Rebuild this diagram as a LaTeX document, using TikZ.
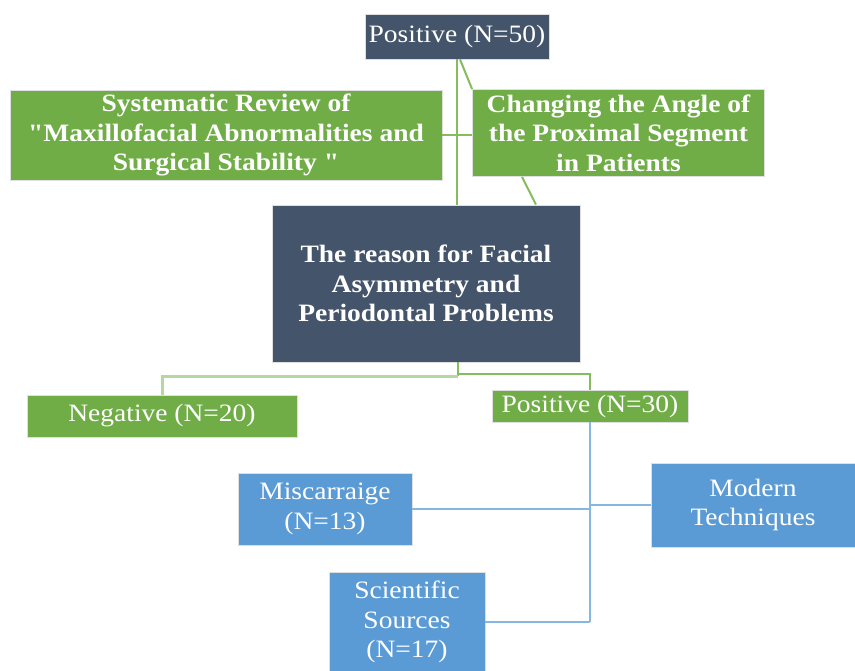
\documentclass[tikz,border=0pt]{standalone}
\usepackage{fontspec}
\setmainfont{Liberation Serif}[FakeStretch=1.1, Ligatures=TeXOff]
\definecolor{navy}{HTML}{44546A}
\definecolor{grn}{HTML}{70AD47}
\definecolor{blu}{HTML}{5B9BD5}
\definecolor{gline}{HTML}{86BC5E}
\definecolor{lgline}{HTML}{B5D7A0}
\definecolor{bline}{HTML}{86B6E2}
\tikzset{
  box/.style={draw=gray!25, line width=0.8pt, inner sep=0pt, align=center, text=white,
    font=\fontsize{25}{29.5}\selectfont},
  navybox/.style={box, fill=navy},
  grnbox/.style={box, fill=grn},
  blubox/.style={box, fill=blu},
  gconn/.style={draw=gline, line width=2pt},
  lgconn/.style={draw=lgline, line width=3pt},
  bconn/.style={draw=bline, line width=2pt},
}
\begin{document}
\begin{tikzpicture}[x=1pt,y=-1pt]
\useasboundingbox[fill=white] (0,0) rectangle (855,671);
% nodes
\node[navybox, minimum width=184pt, minimum height=45pt] (p50) at (457,36.5) {Positive (N=50)};
\node[grnbox, minimum width=432pt, minimum height=90pt, font=\fontsize{25}{29.5}\selectfont\bfseries] (sys) at (226,135)
  {Systematic Review of\\"Maxillofacial Abnormalities and\\Surgical Stability "};
\node[grnbox, minimum width=292pt, minimum height=87pt, font=\fontsize{25}{29.5}\selectfont\bfseries] (chg) at (618.5,133)
  {Changing the Angle of\\the Proximal Segment\\in Patients};
\node[navybox, minimum width=308pt, minimum height=157pt, font=\fontsize{25}{29.5}\selectfont\bfseries] (reason) at (426,283.5)
  {The reason for Facial\\Asymmetry and\\Periodontal Problems};
\node[grnbox, minimum width=270pt, minimum height=42pt] (neg) at (162,416) {Negative (N=20)};
\node[grnbox, minimum width=196pt, minimum height=32pt] (p30) at (590,406) {Positive (N=30)};
\node[blubox, minimum width=174pt, minimum height=72pt] (mis) at (325,509) {Miscarraige\\(N=13)};
\node[blubox, minimum width=204pt, minimum height=84pt] (mod) at (753,505) {Modern\\Techniques};
\node[blubox, minimum width=156pt, minimum height=100pt] (sci) at (407,622) {Scientific\\Sources\\(N=17)};
% upper connectors
\draw[gconn] (p50.south) -- (p50.south |- reason.north);
\draw[gconn] ([xshift=3pt]p50.south) -- (chg.north west);
\draw[gconn] (sys.east) -- (sys.east -| chg.west);
\draw[gconn] ([xshift=-96.5pt]chg.south) -- ([xshift=110pt]reason.north);
% lower connectors
\coordinate (j) at ([xshift=32pt,yshift=-14pt]reason.south);
\draw[gconn] ([xshift=32pt]reason.south) -- (j);
\draw[lgconn] (j) -| (neg.north);
\draw[gconn] ([yshift=2pt]j) -| (p30.north);
% blue connectors
\draw[bconn] (p30.south) -- (p30.south |- sci.east);
\draw[bconn] (mis.east) -- (mis.east -| p30.south);
\draw[bconn] (mod.west) -- (mod.west -| p30.south);
\draw[bconn] (sci.east) -- (sci.east -| p30.south);
\end{tikzpicture}
\end{document}
